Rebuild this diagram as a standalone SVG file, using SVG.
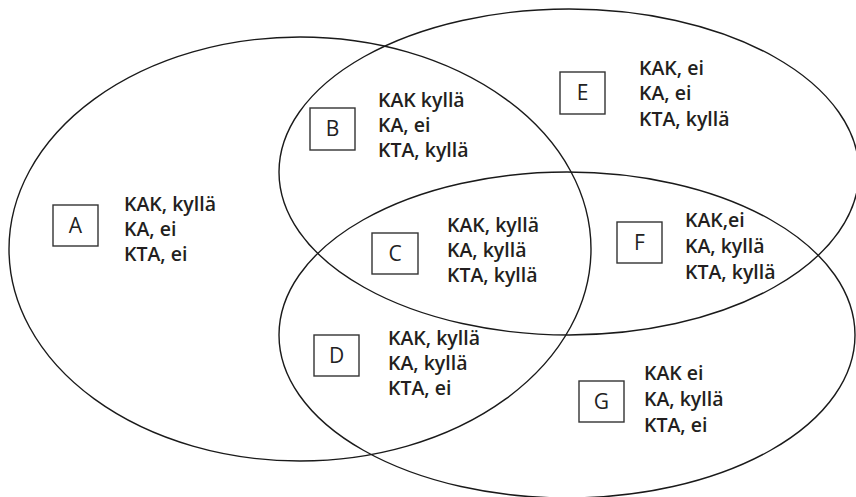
<svg xmlns="http://www.w3.org/2000/svg" width="856" height="497" viewBox="0 0 856 497">
<style>
.ell{fill:none;stroke:#1a1a1a;stroke-width:1.4}
.box{fill:none;stroke:#333;stroke-width:1.4}
.lbl{font-family:"Open Sans","Liberation Sans",sans-serif;font-size:21px;fill:#222;text-anchor:middle}
.txt{font-family:"Open Sans","Liberation Sans",sans-serif;font-size:19.5px;font-weight:600;fill:#231f20}
</style>
<rect width="856" height="497" fill="#fff"/>
<g id="sets">
<ellipse id="setA" class="ell" cx="300" cy="249" rx="291" ry="212"/>
<ellipse id="setE" class="ell" cx="569" cy="172" rx="290" ry="163"/>
<ellipse id="setG" class="ell" cx="567" cy="335" rx="288" ry="163"/>
</g>
<g id="nodeA"><rect class="box" x="53" y="205" width="45" height="41"/><text class="lbl" x="75.5" y="233">A</text>
<text class="txt" x="124"><tspan x="124" y="211">KAK, kyllä</tspan><tspan x="124" y="236">KA, ei</tspan><tspan x="124" y="261">KTA, ei</tspan></text></g>
<g id="nodeB"><rect class="box" x="310" y="108" width="45" height="42"/><text class="lbl" x="332.5" y="136">B</text>
<text class="txt" x="378"><tspan x="378" y="107">KAK kyllä</tspan><tspan x="378" y="132">KA, ei</tspan><tspan x="378" y="157">KTA, kyllä</tspan></text></g>
<g id="nodeC"><rect class="box" x="372" y="233" width="46" height="41"/><text class="lbl" x="395" y="261">C</text>
<text class="txt" x="447"><tspan x="447" y="232">KAK, kyllä</tspan><tspan x="447" y="257">KA, kyllä</tspan><tspan x="447" y="282">KTA, kyllä</tspan></text></g>
<g id="nodeD"><rect class="box" x="314" y="335" width="45" height="41"/><text class="lbl" x="336.5" y="363">D</text>
<text class="txt" x="388"><tspan x="388" y="345">KAK, kyllä</tspan><tspan x="388" y="370">KA, kyllä</tspan><tspan x="388" y="395">KTA, ei</tspan></text></g>
<g id="nodeE"><rect class="box" x="560" y="72" width="45" height="42"/><text class="lbl" x="582.5" y="100">E</text>
<text class="txt" x="639"><tspan x="639" y="75">KAK, ei</tspan><tspan x="639" y="100">KA, ei</tspan><tspan x="639" y="126">KTA, kyllä</tspan></text></g>
<g id="nodeF"><rect class="box" x="617" y="222" width="45" height="41"/><text class="lbl" x="639.5" y="250">F</text>
<text class="txt" x="685"><tspan x="685" y="227">KAK,ei</tspan><tspan x="685" y="253">KA, kyllä</tspan><tspan x="685" y="279">KTA, kyllä</tspan></text></g>
<g id="nodeG"><rect class="box" x="579" y="381" width="45" height="41"/><text class="lbl" x="601.5" y="409">G</text>
<text class="txt" x="644"><tspan x="644" y="380">KAK ei</tspan><tspan x="644" y="406">KA, kyllä</tspan><tspan x="644" y="432">KTA, ei</tspan></text></g>
<g id="connectors"/>
</svg>
